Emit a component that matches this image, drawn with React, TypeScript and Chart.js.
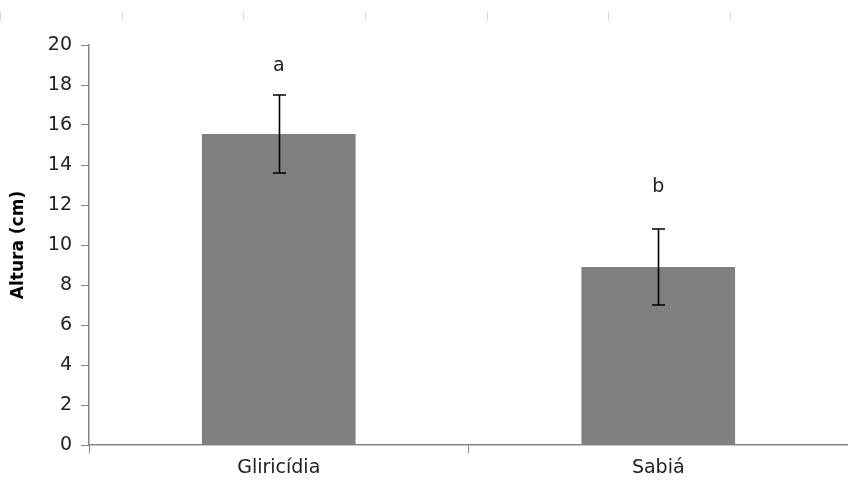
import React, { useEffect, useRef } from "react";
import { Chart, registerables } from "chart.js";

Chart.register(...registerables);

const categories = ["Gliricídia", "Sabiá"];
const alturaMedia = [15.55, 8.9];
const alturaErro = [1.95, 1.9];
const letras = ["a", "b"];
const letraPosicao = [18.95, 12.9];
const yTicks = [0, 2, 4, 6, 8, 10, 12, 14, 16, 18, 20];

const FONT = "'DejaVu Sans', Verdana, sans-serif";

const extrasPlugin = {
  id: "extras",
  beforeDraw(chart: any) {
    const ctx = chart.ctx;
    ctx.save();
    ctx.strokeStyle = "#d8d8d8";
    ctx.lineWidth = 1;
    const step = chart.width / 6.97;
    for (let i = 0; i < 7; i++) {
      const x = Math.round(i * step) + 0.5;
      ctx.beginPath();
      ctx.moveTo(x, 12);
      ctx.lineTo(x, 21);
      ctx.stroke();
    }
    ctx.restore();
  },
  afterDatasetsDraw(chart: any) {
    const ctx = chart.ctx;
    const xs = chart.scales.x;
    const ys = chart.scales.y;
    ctx.save();
    ctx.strokeStyle = "#000";
    ctx.lineWidth = 1.6;
    alturaMedia.forEach((v, i) => {
      const x = Math.round(xs.getPixelForValue(i)) + 0.5;
      const top = ys.getPixelForValue(v + alturaErro[i]);
      const bot = ys.getPixelForValue(v - alturaErro[i]);
      ctx.beginPath();
      ctx.moveTo(x, top);
      ctx.lineTo(x, bot);
      ctx.moveTo(x - 6.5, top);
      ctx.lineTo(x + 6.5, top);
      ctx.moveTo(x - 6.5, bot);
      ctx.lineTo(x + 6.5, bot);
      ctx.stroke();
    });
    ctx.fillStyle = "#222";
    ctx.font = `19px ${FONT}`;
    ctx.textAlign = "center";
    ctx.textBaseline = "middle";
    letras.forEach((t, i) => {
      ctx.fillText(t, xs.getPixelForValue(i), ys.getPixelForValue(letraPosicao[i]));
    });
    ctx.restore();
  },
};

export default function App() {
  const ref = useRef<HTMLCanvasElement>(null);
  useEffect(() => {
    document.body.style.margin = "0";
    const chart = new Chart(ref.current!, {
      type: "bar",
      data: {
        labels: categories,
        datasets: [
          {
            data: alturaMedia,
            backgroundColor: "#808080",
            borderWidth: 0,
            barPercentage: 0.405,
            categoryPercentage: 1,
          },
        ],
      },
      options: {
        animation: false,
        responsive: false,
        maintainAspectRatio: false,
        layout: { padding: { top: 45, left: 0, right: 0, bottom: 0 } },
        plugins: { legend: { display: false }, tooltip: { enabled: false } },
        scales: {
          x: {
            grid: {
              drawOnChartArea: false,
              drawTicks: true,
              tickLength: 8,
              color: "#868686",
            },
            border: { display: true, color: "#868686", width: 1.5 },
            ticks: { color: "#222", font: { family: FONT, size: 19 }, padding: 4 },
            afterFit: (s: any) => {
              s.height = 38;
            },
          },
          y: {
            min: 0,
            max: 20,
            afterBuildTicks: (s: any) => {
              s.ticks = yTicks.map((v) => ({ value: v }));
            },
            grid: {
              drawOnChartArea: false,
              drawTicks: true,
              tickLength: 8,
              color: "#868686",
            },
            border: { display: true, color: "#868686", width: 1.5 },
            ticks: { color: "#222", font: { family: FONT, size: 19 }, padding: 9 },
            title: {
              display: true,
              text: "Altura (cm)",
              color: "#000",
              font: { family: FONT, size: 17, weight: "bold" },
              padding: { top: 8, bottom: 0 },
            },
            afterFit: (s: any) => {
              s.width = 89;
            },
          },
        },
      },
      plugins: [extrasPlugin],
    });
    return () => chart.destroy();
  }, []);
  return (
    <div style={{ position: "absolute", left: 0, top: 0, width: 848, height: 483 }}>
      <canvas ref={ref} width={848} height={483} style={{ display: "block" }} />
    </div>
  );
}
